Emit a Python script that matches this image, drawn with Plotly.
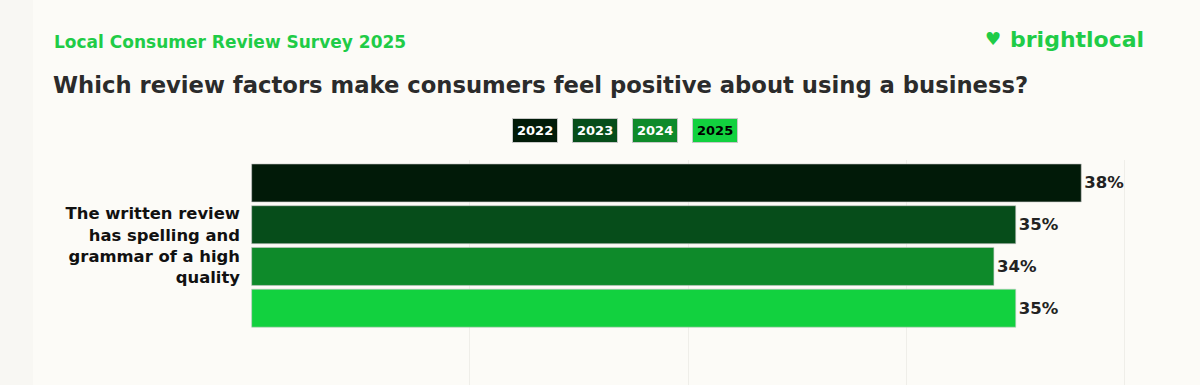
import plotly.graph_objects as go

years = ["2022", "2023", "2024", "2025"]
values = [38, 35, 34, 35]
colors = ["#011a08", "#064d1a", "#0e8a2a", "#12d13f"]
legend_font_colors = ["#ffffff", "#ffffff", "#ffffff", "#000000"]
category_label = "The written review<br>has spelling and<br>grammar of a high<br>quality"
x_ticks = [0, 10, 20, 30, 40]

FONT = "DejaVu Sans"
BG = "#fcfbf7"
GRID = "#efeee9"

fig = go.Figure()
for yr, v, c in zip(years, values, colors):
    fig.add_trace(go.Bar(
        y=[0], x=[v], orientation="h", name=yr,
        marker=dict(color=c, line=dict(color="rgba(200,200,200,0.6)", width=1)),
        text=[f"{v}%"], textposition="outside", cliponaxis=False,
        textfont=dict(family=FONT, size=16.5, color="#222222", weight=700),
        hoverinfo="skip",
    ))

# plot area pixels
L, R, T, B = 251, 1126, 160, 385
W, H = R - L, B - T
def px(x):
    return (x - L) / W
def py(y):
    return (B - y) / H

anns = [
    dict(text="Local Consumer Review Survey 2025", x=px(52), y=py(42), xanchor="left", yanchor="middle",
         font=dict(family=FONT, size=17, color="#1fcc47", weight=700)),
    dict(text="Which review factors make consumers feel positive about using a business?", x=px(51), y=py(85),
         xanchor="left", yanchor="middle", font=dict(family=FONT, size=22.7, color="#2b2b2b", weight=700)),
    dict(text="brightlocal", x=px(1146), y=py(40), xanchor="right", yanchor="middle",
         font=dict(family=FONT, size=22, color="#1fcc47", weight=700)),
    dict(text="\u2665", x=px(1003), y=py(38), xanchor="right", yanchor="middle",
         font=dict(family=FONT, size=18, color="#1fcc47", weight=700)),
]
centers = [534.5, 595, 654.5, 714.5]
for yr, c, fc, cx in zip(years, colors, legend_font_colors, centers):
    anns.append(dict(text=yr, x=px(cx), y=py(130), xanchor="center", yanchor="middle",
                     bgcolor=c, bordercolor="#c8c8c8", borderwidth=1, borderpad=4,
                     font=dict(family=FONT, size=13, color=fc, weight=700)))
for a in anns:
    a.update(xref="paper", yref="paper", showarrow=False)

# subtle darker margin strip on the left edge of the card
shapes = [dict(type="rect", xref="paper", yref="paper", x0=px(0), x1=px(33), y0=py(385), y1=py(0),
               fillcolor="#f8f7f3", line=dict(width=0), layer="below")]

fig.update_layout(
    width=1200, height=385,
    margin=dict(l=L, r=1200 - R, t=T, b=0),
    paper_bgcolor=BG, plot_bgcolor=BG,
    barmode="group", bargap=0.2, bargroupgap=0.09,
    showlegend=False,
    annotations=anns, shapes=shapes,
    xaxis=dict(range=[-0.03, 40.05], tickvals=x_ticks, showticklabels=False, showgrid=True,
               gridcolor=GRID, gridwidth=1, zeroline=False, showline=False, fixedrange=True),
    yaxis=dict(range=[0.668, -0.41], tickvals=[0], ticktext=[category_label], showgrid=False,
               zeroline=False, ticks="", ticklabelstandoff=10,
               tickfont=dict(family=FONT, size=16.4, color="#111111", weight=700)),
)

fig.write_html("out.html", config={"displayModeBar": False},
               post_script="document.body.style.margin='0';document.body.style.background='%s';" % BG)
